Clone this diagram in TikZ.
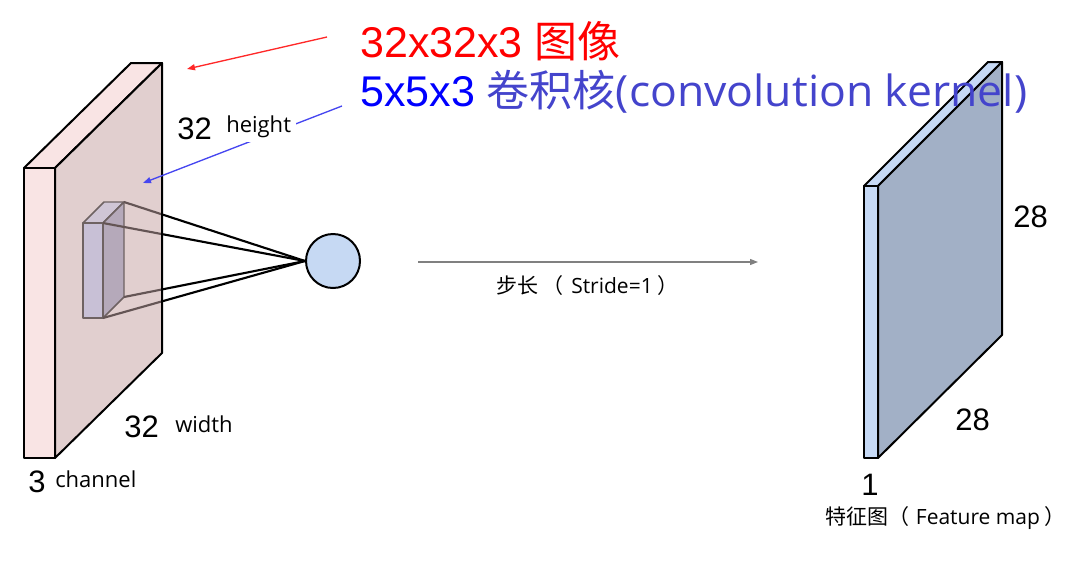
\documentclass[tikz,border=0pt]{standalone}
\usepackage{fontspec}
\setmainfont{Liberation Sans}
\newfontfamily\cjk{Noto Sans CJK SC}
\newfontfamily\ui{Open Sans}
\newfontfamily\uiw[FakeStretch=1.035]{Open Sans}
\usetikzlibrary{arrows.meta}
\definecolor{lpinkA}{RGB}{249,228,228}
\definecolor{lpinkB}{RGB}{225,207,207}
\definecolor{kfront}{RGB}{200,192,214}
\definecolor{kside}{RGB}{181,169,186}
\definecolor{ktop}{RGB}{207,197,213}
\definecolor{kdraw}{RGB}{110,98,98}
\definecolor{kline}{RGB}{100,85,85}
\definecolor{cblue}{RGB}{198,217,243}
\definecolor{rfront}{RGB}{198,217,245}
\definecolor{rside}{RGB}{162,176,198}
\definecolor{redtxt}{RGB}{255,0,0}
\definecolor{bluetxt}{RGB}{0,0,255}
\definecolor{kbluetxt}{RGB}{68,68,204}
\definecolor{redarr}{RGB}{255,40,40}
\definecolor{bluearr}{RGB}{70,70,240}
\definecolor{greyarr}{RGB}{128,128,128}
\begin{document}
\begin{tikzpicture}[x=0.75pt,y=-0.75pt,
  slab/.style={draw=black,line width=1.5pt,line join=round},
  kern/.style={draw=kdraw,line width=1.1pt,line join=round},
  dig/.style={inner sep=0pt,anchor=base west,font=\fontsize{23.25}{27}\selectfont},
  lab/.style={inner sep=0pt,anchor=base west,font=\ui\fontsize{16.5}{19}\selectfont},
  big/.style={inner sep=0pt,anchor=base west,font=\fontsize{32.25}{38}\selectfont},
  small/.style={inner sep=0pt,anchor=base west,font=\fontsize{15.75}{18}\selectfont},
  ann/.style={-{Triangle[length=6pt,width=4.5pt]},line width=1pt},
  conn/.style={line width=1.6pt}]
\useasboundingbox (0,0) rectangle (1070,569);
% ---------- left slab (32x32x3) ----------
\coordinate (Lfl) at (24,168);
\coordinate (Lfr) at (55,168);
\coordinate (Lbl) at (131,63);
\coordinate (Lbr) at (162,63);
\coordinate (Lbbr) at (162,353);
\coordinate (Lfbr) at (55,458);
\filldraw[slab,fill=lpinkA] (Lfl) -- (Lbl) -- (Lbr) -- (Lfr) -- cycle;
\filldraw[slab,fill=lpinkA] (Lfl) rectangle (Lfbr);
\filldraw[slab,fill=lpinkB] (Lfr) -- (Lbr) -- (Lbbr) -- (Lfbr) -- cycle;
% ---------- kernel ----------
\coordinate (Kfl) at (83,223);
\coordinate (Kfr) at (103,223);
\coordinate (Kbl) at (104,202);
\coordinate (Kbr) at (124,202);
\coordinate (Kbbr) at (124,297);
\coordinate (Kfbr) at (103,318);
\filldraw[kern,fill=ktop] (Kfl) -- (Kbl) -- (Kbr) -- (Kfr) -- cycle;
\filldraw[kern,fill=kside] (Kfr) -- (Kbr) -- (Kbbr) -- (Kfbr) -- cycle;
\filldraw[kern,fill=kfront] (Kfl) rectangle (Kfbr);
% ---------- neuron ----------
\node[circle,draw=black,line width=1.5pt,fill=cblue,minimum size=40.5pt,inner sep=0pt] (c) at (333,261) {};
% ---------- connectors kernel -> neuron ----------
\begin{scope}
  \clip (0,0) rectangle (162,569);
  \draw[conn,kline] (Kbr) -- (c.west);
  \draw[conn,kline] (Kfr) -- (c.west);
  \draw[conn,kline] (Kbbr) -- (c.west);
  \draw[conn,kline] (Kfbr) -- (c.west);
\end{scope}
\begin{scope}
  \clip (162,0) rectangle (400,569);
  \draw[conn,black] (Kbr) -- (c.west);
  \draw[conn,black] (Kfr) -- (c.west);
  \draw[conn,black] (Kbbr) -- (c.west);
  \draw[conn,black] (Kfbr) -- (c.west);
\end{scope}
\draw[slab] (Lbr) -- (Lbbr);
% ---------- right slab (feature map) ----------
\coordinate (Rfl) at (864,186);
\coordinate (Rfr) at (878,186);
\coordinate (Rbl) at (988,62);
\coordinate (Rbr) at (1002,62);
\coordinate (Rbbr) at (1002,335);
\coordinate (Rfbr) at (878,458);
\filldraw[slab,fill=rfront] (Rfl) -- (Rbl) -- (Rbr) -- (Rfr) -- cycle;
\filldraw[slab,fill=rfront] (Rfl) rectangle (Rfbr);
\filldraw[slab,fill=rside] (Rfr) -- (Rbr) -- (Rbbr) -- (Rfbr) -- cycle;
% ---------- stride arrow ----------
\coordinate (sS) at (418,262);
\coordinate (sE) at (758,262);
\draw[ann,greyarr,line width=0.9pt] (sS) -- (sE);
\node[small] (stride) at (496,293) {{\cjk 步长}\hspace{3pt}{\cjk （}\hspace{6pt}{\ui Stride=1}\hspace{3.5pt}{\cjk ）}};
% ---------- annotation arrows ----------
\coordinate (rS) at (327,37);
\coordinate (rE) at (187,69);
\draw[ann,redarr] (rS) -- (rE);
\coordinate (bS) at (342,106);
\coordinate (bE) at (143,183);
\draw[ann,bluearr] (bS) -- (bE);
% ---------- labels ----------
\node[big] (t1) at (360,57) {\color{redtxt}32x32x3 {\cjk 图像}};
\node[big] (t2) at (360,106) {{\color{bluetxt}5x5x3} {\color{kbluetxt}\cjk 卷积核}{\color{kbluetxt}\uiw (convolution kernel)}};
\node[dig] (h32) at (177,139) {32};
\node[lab,fill=white,inner xsep=3.75pt,inner ysep=3.75pt] (hlab) at (221,132) {height};
\node[dig] (w32) at (124,437) {32};
\node[lab] (wlab) at (175,432) {width};
\node[dig] (c3) at (28,492) {3};
\node[lab] (clab) at (55,487) {channel};
\node[dig] (r28a) at (1013,227) {28};
\node[dig] (r28b) at (955,430) {28};
\node[dig] (r1) at (861,495) {1};
\node[small] (feat) at (825,524) {{\cjk 特征图（}\hspace{5pt}{\ui Feature map}\hspace{3.5pt}{\cjk ）}};
\end{tikzpicture}
\end{document}
